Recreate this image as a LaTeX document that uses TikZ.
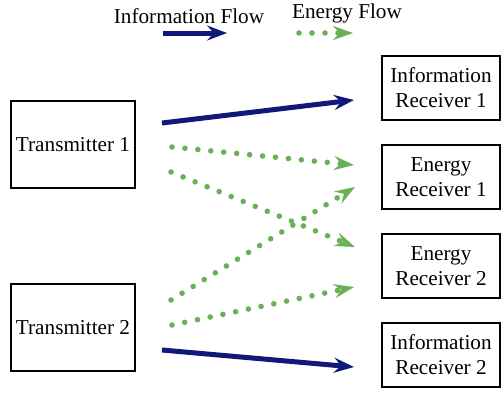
\documentclass[tikz,border=0pt]{standalone}
\usepackage{fontspec}
\setmainfont{Liberation Serif}
\usetikzlibrary{positioning}
\usetikzlibrary{calc}
\usetikzlibrary{arrows.meta}
\definecolor{infoblue}{RGB}{16,24,120}
\definecolor{energygreen}{RGB}{106,176,86}

\begin{document}
\begin{tikzpicture}[x=0.5pt,y=-0.5pt,
	lbl/.style={font=\fontsize{10.6}{12.5}\selectfont, inner sep=0pt},
	box/.style={lbl, draw, line width=1pt, outer sep=0pt, align=center},
	txbox/.style={box, minimum width=62pt, minimum height=43.5pt},
	rxbox/.style={box, minimum width=59pt, minimum height=32pt},
	infoflow/.style={line width=2.5pt, infoblue, -{Stealth[length=10pt,width=7.5pt,inset=3.5pt]}},
	energyflow/.style={line width=2.8pt, energygreen, line cap=round, dash pattern=on 0pt off 6.5pt, -{Stealth[length=10pt,width=7pt,inset=3.5pt]}}
	]
	\useasboundingbox (0,0) rectangle (503,398);
	
	% legend
	\node [lbl] at (189,16) (infolbl) {Information Flow};
	\node [lbl] at (347,13) (energylbl) {Energy Flow};
	\coordinate (infofrom) at (163,33);
	\coordinate (infoto) at (227,33);
	\coordinate (energyfrom) at (299,33);
	\coordinate (energyto) at (353,33);
	\draw [infoflow] (infofrom) -- (infoto);
	\draw [energyflow] (energyfrom) -- (energyto);
	
	% transmitters
	\node [txbox] at (73,144.5) (TX1) {Transmitter 1};
	\node [txbox] at (73,327.5) (TX2) {Transmitter 2};
	
	% receivers
	\node [rxbox] at (441,88) (IR1) {Information\\Receiver 1};
	\node [rxbox, below=12.5pt of IR1] (ER1) {Energy\\Receiver 1};
	\node [rxbox, below=12.5pt of ER1] (ER2) {Energy\\Receiver 2};
	\node [rxbox, below=12.5pt of ER2] (IR2) {Information\\Receiver 2};
	
	\draw [infoflow] ($(TX1.east)+(27,-21.5)$) -- ($(IR1.west)+(-28,12)$);
	\draw [energyflow] ($(TX1.east)+(37,2.5)$) -- ($(ER1.west)+(-28,-12)$);
	\draw [energyflow] ($(TX1.east)+(36,27.5)$) -- ($(ER2.west)+(-27,-19)$);
	\draw [energyflow] ($(TX2.east)+(36,-27.5)$) -- ($(ER1.west)+(-27,10)$);
	\draw [energyflow] ($(TX2.east)+(37,-2.5)$) -- ($(ER2.west)+(-28,21)$);
	\draw [infoflow] ($(TX2.east)+(27,22.5)$) -- ($(IR2.west)+(-28,12)$);
	
\end{tikzpicture}
\end{document}
